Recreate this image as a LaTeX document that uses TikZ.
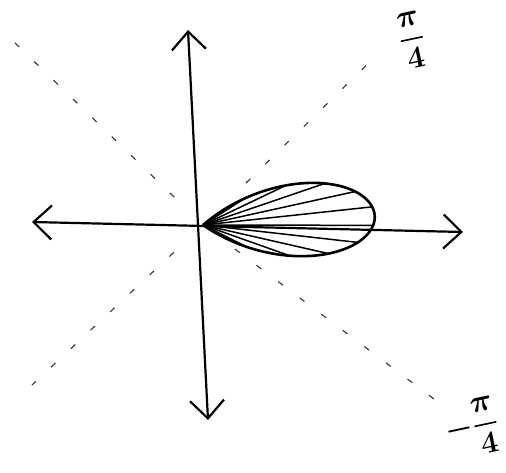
\documentclass[tikz,border=0pt]{standalone}
\usepackage{amsmath}
\usepackage{bm}
\usetikzlibrary{arrows.meta}
\begin{document}
\begin{tikzpicture}[
  x=1pt, y=-1pt,
  barb/.tip={Straight Barb[length=18pt, width=34pt, line width=2.2pt]},
  axis/.style={line width=2.2pt, barb-barb},
  guide/.style={line width=1.1pt, dash pattern=on 6pt off 21pt, black!80},
  petal/.style={line width=2.6pt, line join=round},
  hatch/.style={line width=1.5pt},
  lbl/.style={font=\Huge, scale=1.25, inner sep=0pt},
]
\useasboundingbox (0,0) rectangle (506,473);

% origin and axis ends
\coordinate (O) at (203,225);
\coordinate (xl) at (32,222);
\coordinate (xr) at (463,232);
\coordinate (yt) at (188,30);
\coordinate (yb) at (208,420);

% ends of the dashed diagonals
\coordinate (ul) at (12,40);
\coordinate (ur) at (380,52);
\coordinate (ll) at (32,385);
\coordinate (lr) at (438,402);

% axes
\draw[axis] (xl) -- (xr);
\draw[axis] (yt) -- (yb);

% dashed diagonals
\draw[guide, shorten <=40pt] (O) -- (ul);
\draw[guide, shorten <=60pt] (O) -- (ur);
\draw[guide, shorten <=40pt] (O) -- (ll);
\draw[guide, shorten <=40pt] (O) -- (lr);

% petal with hatching
\begin{scope}[shift={(O)}, rotate=3]
  \draw[petal] plot[domain=-45:45, samples=61, smooth]
    ({172*cos(2*\x)*cos(\x)}, {0.78*172*cos(2*\x)*sin(\x)});
  \foreach \a in {-36,-28,...,36}
    \draw[hatch] (0,0) -- ({172*cos(2*\a)*cos(\a)}, {0.78*172*cos(2*\a)*sin(\a)});
\end{scope}

% labels
\node[lbl, rotate=12] (qpos) at (412,40)
  {$\genfrac{}{}{1.3pt}{0}{\bm{\pi}}{\mathbf{4}}$};
\node[lbl, rotate=12] (qneg) at (472,428)
  {$\bm{-}\genfrac{}{}{1.3pt}{0}{\bm{\pi}}{\mathbf{4}}$};
\end{tikzpicture}
\end{document}
